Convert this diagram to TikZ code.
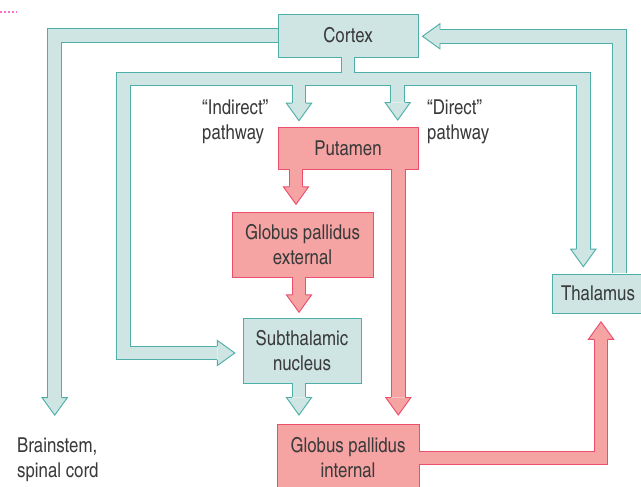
\documentclass[tikz,border=0pt]{standalone}
\usepackage{fontspec}
\setmainfont{TeX Gyre Heros Cn}

\definecolor{tealfill}{HTML}{CFE5E4}
\definecolor{tealline}{HTML}{4DAFA8}
\definecolor{redfill}{HTML}{F5A3A3}
\definecolor{redline}{HTML}{EC4E6D}
\definecolor{labelgray}{HTML}{3A3A3A}
\definecolor{guidepink}{HTML}{FF6EC7}

\tikzset{
  box/.style={draw=#1line, fill=#1fill, line width=0.8pt, inner sep=0pt,
    align=center, text=labelgray, font=\fontsize{17.5}{21.3}\selectfont},
  band/.style={draw=#1line, double=#1fill, line width=0.8pt,
    double distance=11pt, line join=miter},
  note/.style={align=left, inner sep=0pt, anchor=west, text=labelgray,
    font=\fontsize{17.5}{21.3}\selectfont},
  pics/head/.style={code={
    \path[fill=#1fill, draw=#1line, line width=0.8pt, line join=miter]
      (-6.94,0) -- (-12.6,0) -- (0,17.5) -- (12.6,0) -- (6.94,0);
  }}
}

\begin{document}
\begin{tikzpicture}[x=0.03cm,y=-0.03cm,line cap=butt]
\useasboundingbox (0,0) rectangle (641,487);
\clip (0,0) rectangle (641,487);

\draw[guidepink, line width=1pt, dash pattern=on 1.7pt off 1.7pt] (0,12) -- (16,12);

% boxes
\node[box=teal, minimum width=4.2cm, minimum height=1.29cm] (cortex) at (348,35.5) {Cortex};
\node[box=red, minimum width=4.2cm, minimum height=1.26cm] (putamen) at (348,148) {Putamen};
\node[box=red, minimum width=4.23cm, minimum height=1.95cm] (gpe) at (302.5,244.5) {Globus pallidus\\external};
\node[box=teal, minimum width=3.54cm, minimum height=1.95cm] (stn) at (302,350.5) {Subthalamic\\nucleus};
\node[box=red, minimum width=4.26cm, minimum height=2.04cm] (gpi) at (348,458) {Globus pallidus\\internal};
\node[box=teal, minimum width=2.76cm, minimum height=1.17cm] (thalamus) at (598,293.5) {Thalamus};

\node[note] (indirect) at (202,122) {``Indirect''\\pathway};
\node[note] (direct) at (427,122) {``Direct''\\pathway};
\node[note] (brainstem) at (17,460) {Brainstem,\\spinal cord};

% bends and arrow bases
\coordinate (splitL) at (123.7,79);
\coordinate (bsBase) at (54.7,397.7);
\coordinate (stnBase) at (217.3,353);
\coordinate (thalBase) at (583.3,249.2);
\coordinate (indBase) at (299,103.2);
\coordinate (dirBase) at (397.7,102.5);
\coordinate (ctxBase) at (440,36.3);
\coordinate (loopR) at (619.2,36.3);
\coordinate (gpiBase) at (299,397.5);
\coordinate (gpeBase) at (296,186.8);
\coordinate (stnTopBase) at (299,294.8);
\coordinate (dirRedBase) at (398.3,397.5);
\coordinate (thalRedBase) at (601,339.3);

% cortical loops
\draw[band=teal]
  ([xshift=.4pt]cortex.west) -| (bsBase)
  ([yshift=.4pt]cortex.south) -- (cortex.south |- splitL)
  (stnBase) -| (splitL) -| (thalBase)
  (indBase |- splitL) -- (indBase)
  (dirBase |- splitL) -- (dirBase)
  ([yshift=.4pt]gpiBase |- stn.south) -- (gpiBase)
  ([yshift=.4pt]loopR |- thalamus.north) |- (ctxBase);

% basal ganglia outputs
\draw[band=red]
  ([yshift=.4pt]gpeBase |- putamen.south) -- (gpeBase)
  ([yshift=.4pt]stnTopBase |- gpe.south) -- (stnTopBase)
  ([yshift=.4pt]dirRedBase |- putamen.south) -- (dirRedBase)
  ([xshift=-.4pt]gpi.east) -| (thalRedBase);

\pic at (bsBase) {head=teal};
\pic[rotate=90] at (stnBase) {head=teal};
\pic at (thalBase) {head=teal};
\pic at (indBase) {head=teal};
\pic at (dirBase) {head=teal};
\pic[rotate=-90] at (ctxBase) {head=teal};
\pic at (gpiBase) {head=teal};
\pic at (gpeBase) {head=red};
\pic at (stnTopBase) {head=red};
\pic at (dirRedBase) {head=red};
\pic[rotate=180] at (thalRedBase) {head=red};

\end{tikzpicture}
\end{document}
